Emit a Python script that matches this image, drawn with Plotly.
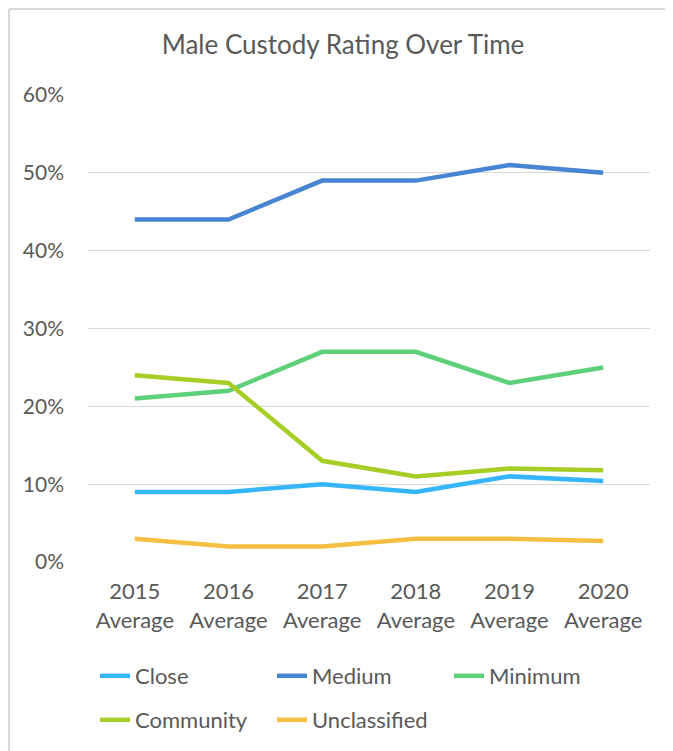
import plotly.graph_objects as go

categories = ["2015<br>Average", "2016<br>Average", "2017<br>Average",
              "2018<br>Average", "2019<br>Average", "2020<br>Average"]
close = [0.09, 0.09, 0.10, 0.09, 0.11, 0.104]
medium = [0.44, 0.44, 0.49, 0.49, 0.51, 0.50]
minimum = [0.21, 0.22, 0.27, 0.27, 0.23, 0.25]
community = [0.24, 0.23, 0.13, 0.11, 0.12, 0.118]
unclassified = [0.03, 0.02, 0.02, 0.03, 0.03, 0.027]
y_ticks = [0, 0.1, 0.2, 0.3, 0.4, 0.5, 0.6]

series = [
    ("Close", close, "#35B6FA", "legend"),
    ("Medium", medium, "#4785D3", "legend"),
    ("Minimum", minimum, "#5ED07A", "legend"),
    ("Community", community, "#A6CE26", "legend2"),
    ("Unclassified", unclassified, "#F5BF42", "legend2"),
]

FONT = "Lato"
GREY = "#595959"

fig = go.Figure()
for name, vals, color, lg in series:
    fig.add_trace(go.Scatter(
        x=categories, y=vals, name=name, mode="lines",
        line=dict(color=color, width=4.5, shape="linear"),
        legend=lg,
    ))

# page body has an 8px margin; coordinates below are in figure pixels
W, H = 673, 751
L, R, T, B = 80, 31, 87, 197
pw, ph = W - L - R, H - T - B

def px_x(p):
    return (p - L) / pw

def px_y(p):
    return (H - B - p) / ph

fig.update_layout(
    width=W, height=H,
    margin=dict(l=L, r=R, t=T, b=B),
    paper_bgcolor="white", plot_bgcolor="white",
    font=dict(family=FONT, color=GREY, size=21),
    title=dict(text="Male Custody Rating Over Time", x=335 / W, xanchor="center",
               y=1 - 37 / H, yanchor="middle",
               font=dict(family=FONT, size=26, color=GREY)),
    xaxis=dict(type="category", range=[-0.5, len(categories) - 0.5],
               showgrid=False, zeroline=False, showline=False, ticks="",
               ticklabelstandoff=14,
               tickfont=dict(size=22, color=GREY)),
    yaxis=dict(range=[0, 0.6], tickvals=y_ticks, tickformat=".0%",
               showgrid=True, gridcolor="#D9D9D9", gridwidth=1.3,
               zeroline=False, showline=False, ticks="",
               ticklabelstandoff=23,
               tickfont=dict(size=21, color=GREY)),
    legend=dict(orientation="h", x=px_x(87), xanchor="left",
                y=px_y(668), yanchor="middle",
                entrywidth=132, entrywidthmode="pixels",
                font=dict(size=22, color=GREY), bgcolor="rgba(0,0,0,0)"),
    legend2=dict(orientation="h", x=px_x(87), xanchor="left",
                 y=px_y(712), yanchor="middle",
                 entrywidth=132, entrywidthmode="pixels",
                 font=dict(size=22, color=GREY), bgcolor="rgba(0,0,0,0)"),
    showlegend=True,
)

# chart frame (top and left edges visible)
fig.add_shape(type="line", xref="paper", yref="paper",
              x0=px_x(1), x1=px_x(W + 5), y0=px_y(1), y1=px_y(1),
              line=dict(color="#D9D9D9", width=2))
fig.add_shape(type="line", xref="paper", yref="paper",
              x0=px_x(1), x1=px_x(1), y0=px_y(1), y1=px_y(H + 5),
              line=dict(color="#D9D9D9", width=2))

fig.write_html("out.html")
